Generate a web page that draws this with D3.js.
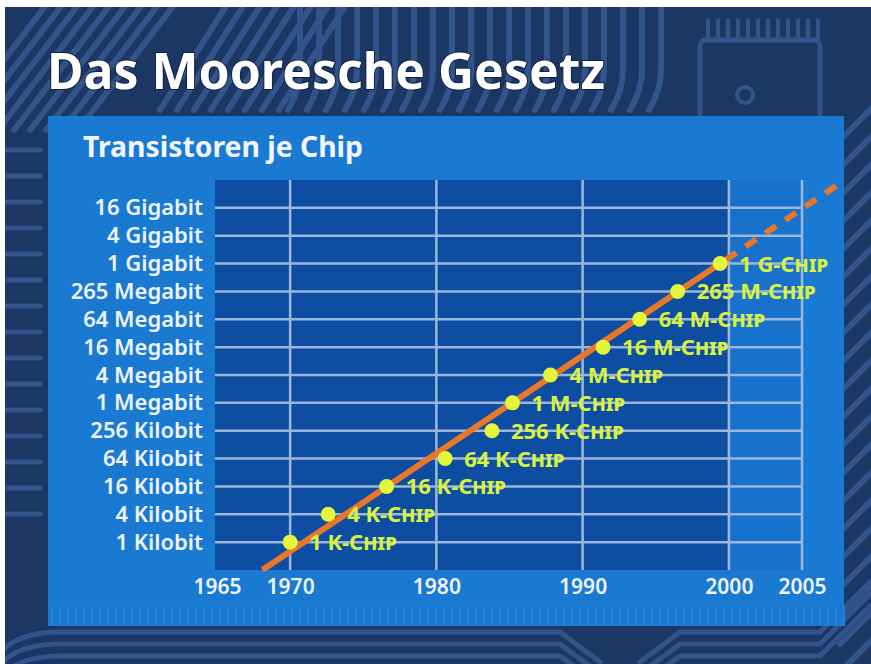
<!DOCTYPE html>
<html>
<head>
<meta charset="utf-8">
<script src="https://cdn.jsdelivr.net/npm/d3@7/dist/d3.min.js"></script>
<style>
  html, body { margin: 0; padding: 0; background: #ffffff; }
  svg { display: block; }
  text { font-family: "Noto Sans", "Open Sans", sans-serif; }
</style>
</head>
<body>
<svg id="chart" width="871" height="664"></svg>
<script>
// Memory chip generations: year of introduction and capacity (in Kilobit)
const chipLabels = ["1 K-Chip", "4 K-Chip", "16 K-Chip", "64 K-Chip", "256 K-Chip",
  "1 M-Chip", "4 M-Chip", "16 M-Chip", "64 M-Chip", "265 M-Chip", "1 G-Chip"];
const chipYears = [1970, 1972.6, 1976.6, 1980.6, 1983.8, 1985.2, 1987.8, 1991.4, 1993.9, 1996.5, 1999.4];
const chipKbit = [1, 4, 16, 64, 256, 1024, 4096, 16384, 65536, 262144, 1048576];

// Trend line (solid) and its projection (dashed)
const trendYears = [1968.1, 1999.4];
const trendKbit = [0.25, 1048576];
const projYears = [1999.4, 2007.93];
const projKbit = [1048576, 67108864];

// Axis ticks
const yTickKbit = [1, 4, 16, 64, 256, 1024, 4096, 16384, 65536, 262144, 1048576, 4194304, 16777216];
const yTickLabels = ["1 Kilobit", "4 Kilobit", "16 Kilobit", "64 Kilobit", "256 Kilobit",
  "1 Megabit", "4 Megabit", "16 Megabit", "64 Megabit", "265 Megabit",
  "1 Gigabit", "4 Gigabit", "16 Gigabit"];
const xTickYears = [1965, 1970, 1980, 1990, 2000, 2005];
const xGridYears = [1970, 1980, 1990, 2000, 2005];

const titleText = "Das Mooresche Gesetz";
const subtitleText = "Transistoren je Chip";

const svg = d3.select("#chart");
const W = 871, H = 664;

// ---------- circuit-board backdrop ----------
const bg = svg.append("g");
bg.append("rect").attr("x", 5).attr("y", 7).attr("width", W - 5).attr("height", H - 7).attr("fill", "#1d3764");
const bgClip = svg.append("defs").append("clipPath").attr("id", "bgclip");
bgClip.append("rect").attr("x", 5).attr("y", 7).attr("width", W - 5).attr("height", H - 7);
const traces = bg.append("g").attr("clip-path", "url(#bgclip)")
  .attr("fill", "none").attr("stroke", "#33548a").attr("stroke-width", 6).attr("stroke-linecap", "round");

// diagonal traces, upper left
d3.range(0, 9).forEach(i => {
  const x0 = -10 + i * 16;
  traces.append("path").attr("d", `M${x0 + 60},0 L${x0 - 40},130`);
});
d3.range(0, 8).forEach(i => {
  const x0 = 160 + i * 17;
  traces.append("path").attr("d", `M${x0 + 70},0 L${x0},110`);
});
// bus lines along the top
d3.range(0, 20).forEach(i => {
  const x0 = 300 + i * 19;
  traces.append("path").attr("d", `M${x0},0 L${x0},70 Q${x0},90 ${x0 - 12},110`);
});
// chip outline at upper right
traces.append("rect").attr("x", 700).attr("y", 40).attr("width", 120).attr("height", 80).attr("rx", 6)
  .attr("stroke-width", 5);
d3.range(0, 12).forEach(i => {
  traces.append("path").attr("d", `M${708 + i * 10},20 L${708 + i * 10},40`).attr("stroke-width", 4);
});
traces.append("circle").attr("cx", 745).attr("cy", 95).attr("r", 8).attr("stroke-width", 4);
// pins on the left edge
d3.range(0, 15).forEach(i => {
  traces.append("path").attr("d", `M5,${150 + i * 26} L40,${150 + i * 26}`).attr("stroke-width", 5);
});
// diagonal traces along the right edge
d3.range(0, 20).forEach(i => {
  const y0 = 100 + i * 28;
  traces.append("path").attr("d", `M840,${y0 + 40} L880,${y0}`).attr("stroke-width", 6);
});
// curved traces along the bottom
d3.range(0, 3).forEach(i => {
  const y0 = 632 + i * 12;
  traces.append("path")
    .attr("d", `M0,${y0 + 20} Q20,${y0} 60,${y0} L560,${y0} L600,${y0 + 30} M640,${y0 + 30} L680,${y0} L820,${y0} L870,${y0 - 50}`)
    .attr("stroke-width", 5);
});

// ---------- title ----------
svg.append("text")
  .attr("x", 47).attr("y", 89)
  .attr("font-size", 50).attr("font-weight", 700)
  .attr("fill", "#ffffff")
  .attr("textLength", 558).attr("lengthAdjust", "spacingAndGlyphs")
  .style("paint-order", "stroke").attr("stroke", "#0f2244").attr("stroke-width", 2)
  .text(titleText);

// ---------- panel ----------
svg.append("rect").attr("x", 48).attr("y", 116).attr("width", 796).attr("height", 510).attr("fill", "#1a7ad2");
// faint pin texture at the bottom of the panel
const tex = svg.append("g").attr("stroke", "#2282d6").attr("stroke-width", 2);
d3.range(0, 100).forEach(i => {
  tex.append("line").attr("x1", 52 + i * 8).attr("x2", 52 + i * 8).attr("y1", 606).attr("y2", 626);
});

svg.append("text")
  .attr("x", 83).attr("y", 157)
  .attr("font-size", 29).attr("font-weight", 700)
  .attr("fill", "#f2f6ff")
  .attr("textLength", 280).attr("lengthAdjust", "spacingAndGlyphs")
  .text(subtitleText);

// ---------- scales ----------
const x = d3.scaleLinear().domain([1965, 2005]).range([217, 802]);
const y = d3.scaleLog().base(4).domain([0.25, Math.pow(4, 13)]).range([570, 180]);

// plot background
svg.append("rect")
  .attr("x", x(1965) - 2).attr("y", y(Math.pow(4, 13)))
  .attr("width", x(2000) - x(1965) + 2).attr("height", y(0.25) - y(Math.pow(4, 13)))
  .attr("fill", "#0d4ea2");
svg.append("rect")
  .attr("x", x(2000)).attr("y", y(Math.pow(4, 13)))
  .attr("width", x(2005) - x(2000)).attr("height", y(0.25) - y(Math.pow(4, 13)))
  .attr("fill", "#1872cb");

// grid
const grid = svg.append("g").attr("stroke", "#9db6dc").attr("stroke-width", 2.5);
grid.selectAll("line.h").data(yTickKbit).join("line").attr("class", "h")
  .attr("x1", x(1965) - 2).attr("x2", x(2005))
  .attr("y1", d => y(d)).attr("y2", d => y(d));
grid.selectAll("line.v").data(xGridYears).join("line").attr("class", "v")
  .attr("x1", d => x(d)).attr("x2", d => x(d))
  .attr("y1", y(Math.pow(4, 13))).attr("y2", y(0.25));

// axes
const yAxis = d3.axisLeft(y).tickValues(yTickKbit)
  .tickFormat((d, i) => yTickLabels[i]).tickSize(0).tickPadding(12);
const yG = svg.append("g").attr("transform", `translate(${x(1965) - 2},0)`).call(yAxis);
yG.select(".domain").remove();
yG.selectAll("text")
  .attr("font-family", "'Noto Sans', sans-serif")
  .attr("font-size", 22).attr("font-weight", 600)
  .attr("fill", "#eef4ff");

const xAxis = d3.axisBottom(x).tickValues(xTickYears).tickFormat(d3.format("d")).tickSize(0).tickPadding(9);
const xG = svg.append("g").attr("transform", `translate(0,${y(0.25)})`).call(xAxis);
xG.select(".domain").remove();
xG.selectAll("text")
  .attr("font-family", "'Noto Sans', sans-serif")
  .attr("font-size", 21).attr("font-weight", 600)
  .attr("fill", "#eef4ff");

// trend line and projection
const line = d3.line().x(d => x(d[0])).y(d => y(d[1]));
svg.append("path")
  .datum(projYears.map((yr, i) => [yr, projKbit[i]]))
  .attr("d", line).attr("fill", "none")
  .attr("stroke", "#e8772a").attr("stroke-width", 6)
  .attr("stroke-dasharray", "13 11").attr("stroke-dashoffset", -6.5);
svg.append("path")
  .datum(trendYears.map((yr, i) => [yr, trendKbit[i]]))
  .attr("d", line).attr("fill", "none")
  .attr("stroke", "#e8772a").attr("stroke-width", 6);

// chip points and labels
const chips = chipYears.map((yr, i) => ({ year: yr, kbit: chipKbit[i], label: chipLabels[i] }));
svg.selectAll("circle.chip").data(chips).join("circle").attr("class", "chip")
  .attr("cx", d => x(d.year)).attr("cy", d => y(d.kbit)).attr("r", 7.5)
  .attr("fill", "#e4f53c");
svg.selectAll("text.chip").data(chips).join("text").attr("class", "chip")
  .attr("x", d => x(d.year) + 19).attr("y", d => y(d.kbit) + 2)
  .attr("dominant-baseline", "middle")
  .attr("font-size", 22).attr("font-weight", 700)
  .style("font-variant", "small-caps")
  .attr("fill", "#d8f23e")
  .text(d => d.label);
</script>
</body>
</html>
